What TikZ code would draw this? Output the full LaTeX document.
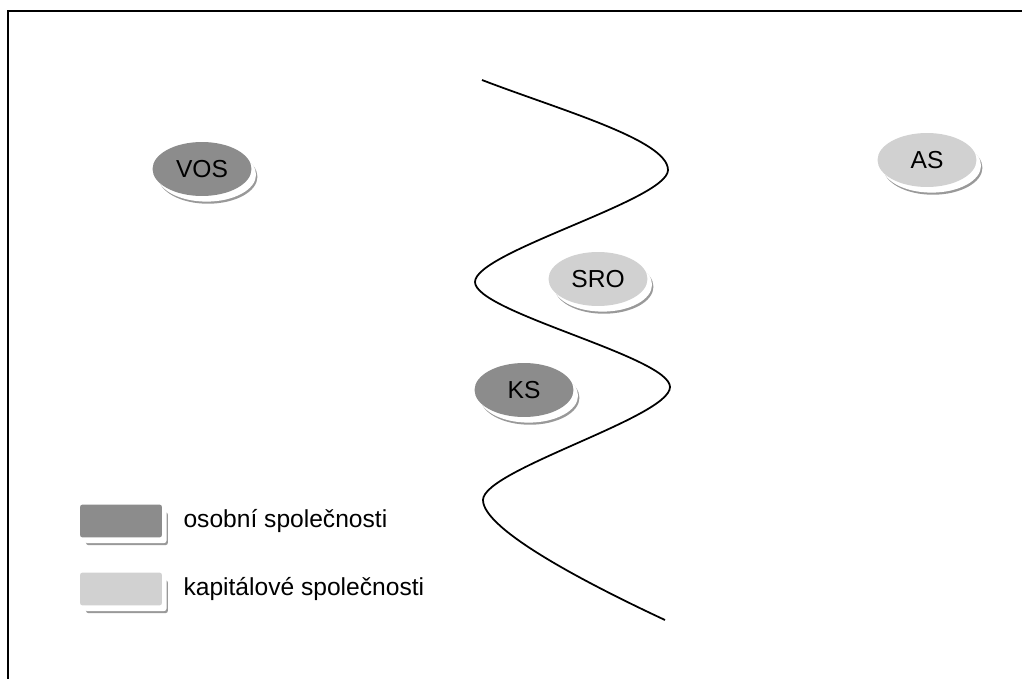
\documentclass[tikz,border=0pt]{standalone}
\usepackage{fontspec}
\setmainfont{Liberation Sans}
\usetikzlibrary{shapes.geometric,shadows,positioning}
\colorlet{osobni}{black!45}
\colorlet{kapital}{black!18}
\tikzset{
  deska/.style={general shadow={fill=black!40, shadow xshift=3.4pt, shadow yshift=-4.4pt},
                general shadow={fill=white, shadow xshift=2.6pt, shadow yshift=-3.2pt}},
  spol/.style={ellipse, deska, minimum width=1.98cm, minimum height=1.08cm, inner sep=0pt},
  legenda/.style={rectangle, rounded corners=1.5pt, deska, minimum width=1.64cm, minimum height=0.66cm}
}
\begin{document}
\begin{tikzpicture}[
            x=0.02cm, y=-0.02cm,
            every node/.style={black},
            font=\fontsize{14}{17}\selectfont
        ]
            \useasboundingbox (0,0) rectangle (1022,679);
            \draw [line width=1.2pt] (8,679) -- (8,11) -- (1022,11);

            % hranice mezi osobnimi a kapitalovymi
            \draw [line width=1pt] (482,80) .. controls (560,110) and (668,140) .. (668,170)
                .. controls (668,200) and (475,252) .. (475,282)
                .. controls (475,312) and (670,357) .. (670,387)
                .. controls (670,417) and (483,470) .. (483,500)
                .. controls (483,530) and (590,585) .. (665,620);

            \node [spol, fill=osobni] (vos) at (202,169) {VOS};
            \node [spol, fill=kapital] (as) at (927,160) {AS};
            \node [spol, fill=kapital] (sro) at (598,279) {SRO};
            \node [spol, fill=osobni] (ks) at (524,390) {KS};

            % legenda
            \node [legenda, fill=osobni] (osobni) at (121,521) {};
            \node [right=0.3cm of osobni] (osobnitext) {osobní společnosti};
            \node [legenda, fill=kapital] (kapital) at (121,589) {};
            \node [right=0.3cm of kapital] (kapitaltext) {kapitálové společnosti};
        \end{tikzpicture}
\end{document}
